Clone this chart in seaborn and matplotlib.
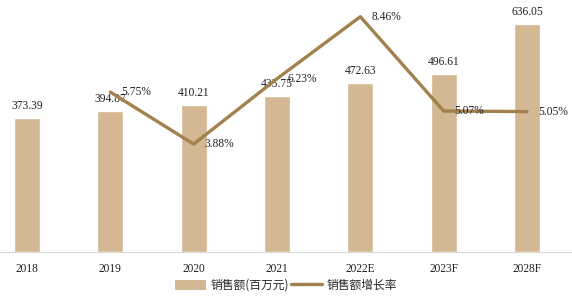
import matplotlib
matplotlib.use("Agg")
import matplotlib.pyplot as plt
import seaborn as sns
import pandas as pd
import numpy as np
from matplotlib.patches import Patch
from matplotlib.lines import Line2D

years = ["2018", "2019", "2020", "2021", "2022E", "2023F", "2028F"]
sales = [373.39, 394.87, 410.21, 435.75, 472.63, 496.61, 636.05]
growth_years = ["2019", "2020", "2021", "2022E", "2023F", "2028F"]
growth = [5.75, 3.88, 6.23, 8.46, 5.07, 5.05]

bar_color = "#d3b893"
line_color = "#a2814f"

sns.set_theme(style="white")
plt.rcParams['font.family'] = ['Liberation Serif', 'Noto Sans CJK SC', 'DejaVu Sans']

fig = plt.figure(figsize=(5.72, 3.03), dpi=100)
ax = fig.add_axes([0.0, 0.168, 1.0, 0.832])

df = pd.DataFrame({"year": years, "sales": sales})
sns.barplot(data=df, x="year", y="sales", color=bar_color, width=0.31,
            saturation=1, ax=ax)
ax.set_xlim(-0.324, 6.54)
ax.set_ylim(0, 704)
for i, v in enumerate(sales):
    ax.text(i, v + 17, f"{v:.2f}", ha="center", va="bottom", fontsize=8.3,
            color="#222222", family="Liberation Serif")

ax2 = ax.twinx()
gx = [years.index(y) for y in growth_years]
gdf = pd.DataFrame({"x": gx, "g": growth})
sns.lineplot(data=gdf, x="x", y="g", color=line_color, linewidth=2.4, ax=ax2)
ax2.set_ylim(0, 9.06)
for x, g in zip(gx, growth):
    ax2.text(x + 0.13, g, f"{g:.2f}%", ha="left", va="center", fontsize=8.3,
             color="#222222", family="Liberation Serif")

for a in (ax, ax2):
    for s in ["top", "left", "right"]:
        a.spines[s].set_visible(False)
    a.set_ylabel("")
    a.set_yticks([])
ax2.spines["bottom"].set_visible(False)
ax.spines["bottom"].set_color("#d9d9d9")
ax.spines["bottom"].set_linewidth(0.8)
ax.set_xlabel("")
ax.tick_params(axis="x", length=0, pad=8, labelsize=8.3, colors="#222222")
for lbl in ax.get_xticklabels():
    lbl.set_family("Liberation Serif")

handles = [Patch(facecolor=bar_color, edgecolor="none"),
           Line2D([0], [0], color=line_color, linewidth=2.4)]
fig.legend(handles, ["销售额(百万元)", "销售额增长率"], loc="center",
           bbox_to_anchor=(0.5, 0.058), ncol=2, frameon=False,
           prop={"family": ["Noto Sans CJK SC", "DejaVu Sans"], "size": 8.5},
           handlelength=2.6, handleheight=0.9, columnspacing=0.2, handletextpad=0.4)

fig.savefig("out.png", dpi=100)
